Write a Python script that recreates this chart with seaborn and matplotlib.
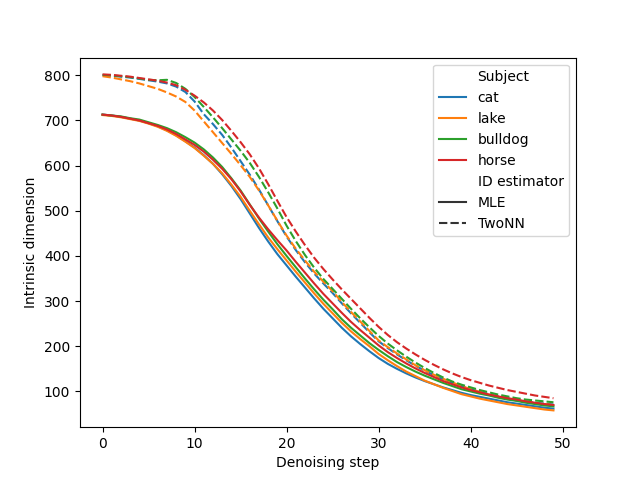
"""Intrinsic dimension across denoising steps, per subject and estimator."""

import pandas as pd
import matplotlib
matplotlib.use("Agg")
import matplotlib.pyplot as plt
import seaborn as sns

steps = list(range(50))
subjects = ["cat", "lake", "bulldog", "horse"]
estimators = ["MLE", "TwoNN"]

# MLE estimates
mle_cat = [713, 711, 708, 704, 700, 694, 687, 678, 667, 654,
           640, 623, 604, 581, 555, 526, 494, 462, 432, 404,
           379, 354, 330, 306, 283, 262, 241, 222, 205, 189,
           174, 161, 150, 140, 131, 123, 116, 109, 103, 97,
           92, 88, 84, 80, 76, 73, 70, 67, 64, 62]
mle_lake = [712, 710, 707, 703, 699, 693, 686, 677, 666, 653,
            639, 622, 604, 583, 558, 531, 500, 470, 441, 415,
            390, 365, 341, 317, 294, 273, 252, 233, 216, 200,
            183, 169, 156, 144, 134, 124, 116, 108, 101, 94,
            89, 84, 80, 76, 72, 69, 66, 63, 60, 58]
mle_bulldog = [713, 711, 709, 705, 702, 696, 690, 683, 674, 663,
               651, 636, 618, 597, 572, 545, 514, 483, 454, 426,
               400, 375, 350, 326, 303, 282, 260, 241, 224, 207,
               192, 178, 165, 154, 144, 135, 127, 119, 112, 105,
               100, 95, 91, 86, 82, 79, 75, 72, 69, 67]
mle_horse = [713, 711, 708, 704, 700, 694, 688, 680, 670, 658,
             646, 631, 613, 593, 570, 543, 513, 485, 459, 435,
             412, 387, 363, 339, 316, 295, 274, 254, 236, 219,
             202, 187, 174, 162, 151, 141, 132, 123, 116, 109,
             103, 98, 93, 89, 85, 82, 78, 75, 72, 70]

# TwoNN estimates
twonn_cat = [800, 799, 797, 795, 792, 789, 786, 782, 775, 763,
             742, 714, 692, 668, 640, 610, 580, 547, 512, 477,
             443, 413, 386, 361, 339, 318, 295, 273, 252, 231,
             211, 196, 182, 169, 157, 146, 136, 127, 119, 112,
             105, 99, 94, 89, 85, 81, 78, 75, 73, 71]
twonn_lake = [798, 795, 791, 787, 782, 776, 770, 762, 753, 741,
              722, 698, 674, 650, 626, 601, 575, 545, 512, 478,
              445, 416, 390, 365, 343, 322, 298, 276, 255, 234,
              213, 198, 184, 171, 158, 147, 137, 128, 120, 112,
              105, 99, 93, 88, 84, 80, 77, 74, 72, 70]
twonn_bulldog = [801, 800, 798, 796, 793, 790, 789, 790, 783, 770,
                 752, 730, 707, 683, 658, 633, 606, 575, 541, 505,
                 467, 433, 402, 374, 349, 327, 305, 283, 262, 242,
                 223, 206, 191, 177, 164, 152, 141, 131, 122, 115,
                 109, 103, 98, 93, 89, 85, 82, 80, 78, 76]
twonn_horse = [802, 801, 799, 797, 794, 791, 788, 784, 778, 768,
               755, 740, 722, 701, 677, 652, 625, 594, 559, 522,
               486, 454, 424, 396, 371, 348, 326, 305, 284, 263,
               243, 225, 209, 195, 182, 170, 159, 149, 140, 132,
               125, 119, 113, 108, 103, 99, 95, 91, 88, 85]

series = {
    ("cat", "MLE"): mle_cat,
    ("lake", "MLE"): mle_lake,
    ("bulldog", "MLE"): mle_bulldog,
    ("horse", "MLE"): mle_horse,
    ("cat", "TwoNN"): twonn_cat,
    ("lake", "TwoNN"): twonn_lake,
    ("bulldog", "TwoNN"): twonn_bulldog,
    ("horse", "TwoNN"): twonn_horse,
}

#long table for seaborn
rows = []
for (subject, est), vals in series.items():
    for s, v in zip(steps, vals):
        rows.append((s, v, subject, est))
df = pd.DataFrame(rows, columns=["Denoising step", "Intrinsic dimension",
                                 "Subject", "ID estimator"])

fig, ax = plt.subplots(figsize=(6.4, 4.8), dpi=100)
sns.lineplot(df, x="Denoising step", y="Intrinsic dimension",
             hue="Subject", style="ID estimator",
             hue_order=subjects, style_order=estimators, ax=ax)
ax.legend(loc="upper right")
fig.savefig("out.png")
